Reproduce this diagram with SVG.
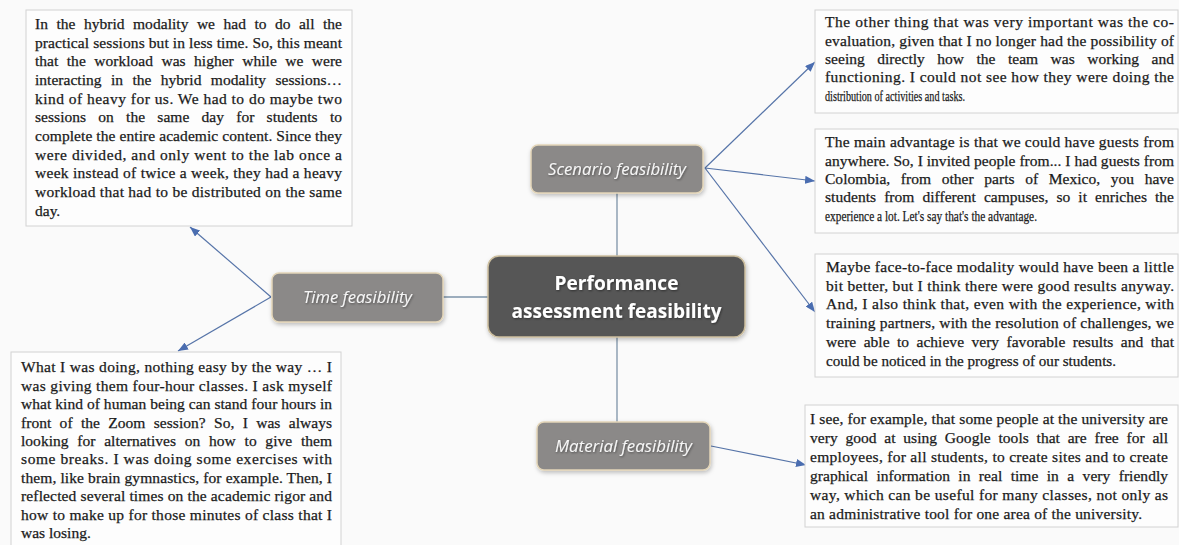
<svg xmlns="http://www.w3.org/2000/svg" width="1179" height="545" viewBox="0 0 1179 545">
<style>
.bg{fill:#fafafa}
.qbox{fill:#fdfdfd;stroke:#d2d2d2;stroke-width:1}
.q{font-family:"Liberation Serif","Times New Roman",serif;font-size:15.5px;fill:#1a1a1a;stroke:#1a1a1a;stroke-width:0.25}
.sub{fill:#8b8988;stroke:#e3d5b8;stroke-width:1.5}
.main{fill:#575757;stroke:#cdbf9f;stroke-width:1.5}
.lbl{font-family:"Open Sans","Noto Sans",sans-serif;font-style:italic;font-size:16px;fill:#f6f6f6;text-anchor:middle}
.mlbl{font-family:"Open Sans","Noto Sans",sans-serif;font-weight:bold;font-size:19px;fill:#ffffff;text-anchor:middle}
.plain{stroke:#7d93a8;stroke-width:1.3;fill:none}
.arr{stroke:#5674a8;stroke-width:1.2;fill:none;marker-end:url(#ah)}
</style>
<defs>
<marker id="ah" markerUnits="userSpaceOnUse" markerWidth="10" markerHeight="8" refX="10" refY="4" orient="auto">
<path d="M0,0 L10,4 L0,8 z" fill="#4a6db0"/>
</marker>
<filter id="sh" x="-10%" y="-20%" width="120%" height="150%">
<feDropShadow dx="1" dy="2" stdDeviation="2" flood-color="#000" flood-opacity="0.25"/>
</filter>
<filter id="tsh" x="-5%" y="-20%" width="110%" height="150%">
<feDropShadow dx="0.8" dy="1" stdDeviation="0.8" flood-color="#000" flood-opacity="0.45"/>
</filter>
</defs>
<rect class="bg" x="0" y="0" width="1179" height="545"/>

<g id="connectors">
<line class="plain" x1="443" y1="297" x2="488" y2="297"/>
<line class="plain" x1="617" y1="193" x2="617" y2="256"/>
<line class="plain" x1="617" y1="337" x2="617" y2="422"/>
<line class="arr" x1="271" y1="297" x2="190" y2="227"/>
<line class="arr" x1="271" y1="297" x2="178" y2="351"/>
<line class="arr" x1="705" y1="168" x2="815" y2="62"/>
<line class="arr" x1="705" y1="168" x2="815" y2="181"/>
<line class="arr" x1="705" y1="168" x2="815" y2="312"/>
<line class="arr" x1="711" y1="446" x2="806" y2="465"/>
</g>

<g id="quote-time-1">
<rect class="qbox" x="26" y="10" width="326" height="216"/>
<text class="q">
<tspan x="35" y="29" textLength="307" lengthAdjust="spacing" word-spacing="4.5">In the hybrid modality we had to do all the</tspan>
<tspan x="35" y="47.7" textLength="307" lengthAdjust="spacing">practical sessions but in less time. So, this meant</tspan>
<tspan x="35" y="66.3" textLength="307" lengthAdjust="spacing" word-spacing="4.5">that the workload was higher while we were</tspan>
<tspan x="35" y="85" textLength="307" lengthAdjust="spacing" word-spacing="5.5">interacting in the hybrid modality sessions…</tspan>
<tspan x="35" y="103.7" textLength="307" lengthAdjust="spacing">kind of heavy for us. We had to do maybe two</tspan>
<tspan x="35" y="122.3" textLength="307" lengthAdjust="spacing" word-spacing="8.3">sessions on the same day for students to</tspan>
<tspan x="35" y="141" textLength="307" lengthAdjust="spacing">complete the entire academic content. Since they</tspan>
<tspan x="35" y="159.7" textLength="307" lengthAdjust="spacing">were divided, and only went to the lab once a</tspan>
<tspan x="35" y="178.3" textLength="307" lengthAdjust="spacing">week instead of twice a week, they had a heavy</tspan>
<tspan x="35" y="197" textLength="307" lengthAdjust="spacing">workload that had to be distributed on the same</tspan>
<tspan x="35" y="215.7">day.</tspan>
</text>
</g>

<g id="quote-time-2">
<rect class="qbox" x="11" y="352" width="330" height="200"/>
<text class="q">
<tspan x="21" y="372.3" textLength="311" lengthAdjust="spacing">What I was doing, nothing easy by the way … I</tspan>
<tspan x="21" y="390.7" textLength="311" lengthAdjust="spacing">was giving them four-hour classes. I ask myself</tspan>
<tspan x="21" y="409.1" textLength="311" lengthAdjust="spacing">what kind of human being can stand four hours in</tspan>
<tspan x="21" y="427.5" textLength="311" lengthAdjust="spacing" word-spacing="4.4">front of the Zoom session? So, I was always</tspan>
<tspan x="21" y="445.9" textLength="311" lengthAdjust="spacing" word-spacing="4.8">looking for alternatives on how to give them</tspan>
<tspan x="21" y="464.3" textLength="311" lengthAdjust="spacing">some breaks. I was doing some exercises with</tspan>
<tspan x="21" y="482.7" textLength="311" lengthAdjust="spacing">them, like brain gymnastics, for example. Then, I</tspan>
<tspan x="21" y="501.1" textLength="311" lengthAdjust="spacing">reflected several times on the academic rigor and</tspan>
<tspan x="21" y="519.5" textLength="311" lengthAdjust="spacing">how to make up for those minutes of class that I</tspan>
<tspan x="21" y="537.9">was losing.</tspan>
</text>
</g>

<g id="quote-scenario-1">
<rect class="qbox" x="815" y="10" width="363" height="103"/>
<text class="q">
<tspan x="825" y="27.3" textLength="349" lengthAdjust="spacing">The other thing that was very important was the co-</tspan>
<tspan x="825" y="45.6" textLength="349" lengthAdjust="spacing">evaluation, given that I no longer had the possibility of</tspan>
<tspan x="825" y="63.9" textLength="349" lengthAdjust="spacing" word-spacing="8.5">seeing directly how the team was working and</tspan>
<tspan x="825" y="82.2" textLength="349" lengthAdjust="spacing">functioning. I could not see how they were doing the</tspan>
<tspan x="825" y="100.5" textLength="140" lengthAdjust="spacingAndGlyphs">distribution  of activities  and tasks.</tspan>
</text>
</g>

<g id="quote-scenario-2">
<rect class="qbox" x="815" y="129" width="363" height="104"/>
<text class="q">
<tspan x="825" y="147.3" textLength="349" lengthAdjust="spacing">The main advantage is that we could have guests from</tspan>
<tspan x="825" y="165.6" textLength="349" lengthAdjust="spacing">anywhere. So, I invited people from... I had guests from</tspan>
<tspan x="825" y="183.9" textLength="349" lengthAdjust="spacing" word-spacing="6.7">Colombia, from other parts of Mexico, you have</tspan>
<tspan x="825" y="202.2" textLength="349" lengthAdjust="spacing" word-spacing="4.1">students from different campuses, so it enriches the</tspan>
<tspan x="825" y="220.5" textLength="212" lengthAdjust="spacingAndGlyphs">experience  a lot. Let's say that's the advantage.</tspan>
</text>
</g>

<g id="quote-scenario-3">
<rect class="qbox" x="815" y="254" width="363" height="123"/>
<text class="q">
<tspan x="826" y="272" textLength="348" lengthAdjust="spacing">Maybe face-to-face modality would have been a little</tspan>
<tspan x="826" y="290.7" textLength="348" lengthAdjust="spacing">bit better, but I think there were good results anyway.</tspan>
<tspan x="826" y="309.4" textLength="348" lengthAdjust="spacing">And, I also think that, even with the experience, with</tspan>
<tspan x="826" y="328.1" textLength="348" lengthAdjust="spacing">training partners, with the resolution of challenges, we</tspan>
<tspan x="826" y="346.8" textLength="348" lengthAdjust="spacing" word-spacing="3.5">were able to achieve very favorable results and that</tspan>
<tspan x="826" y="365.5" textLength="290" lengthAdjust="spacingAndGlyphs">could be noticed in the progress of our students.</tspan>
</text>
</g>

<g id="quote-material">
<rect class="qbox" x="805" y="405" width="373" height="122"/>
<text class="q">
<tspan x="810" y="424" textLength="358" lengthAdjust="spacing">I see, for example, that some people at the university are</tspan>
<tspan x="810" y="443" textLength="358" lengthAdjust="spacing" word-spacing="3.8">very good at using Google tools that are free for all</tspan>
<tspan x="810" y="462" textLength="358" lengthAdjust="spacing">employees, for all students, to create sites and to create</tspan>
<tspan x="810" y="481" textLength="358" lengthAdjust="spacing" word-spacing="4.5">graphical information in real time in a very friendly</tspan>
<tspan x="810" y="500" textLength="358" lengthAdjust="spacing">way, which can be useful for many classes, not only as</tspan>
<tspan x="810" y="519" textLength="332" lengthAdjust="spacing">an administrative  tool for one area of the university.</tspan>
</text>
</g>

<g id="node-time">
<rect class="sub" x="272" y="273" width="171" height="49" rx="7" filter="url(#sh)"/>
<text class="lbl" x="357.5" y="303" textLength="109" lengthAdjust="spacingAndGlyphs" filter="url(#tsh)">Time feasibility</text>
</g>

<g id="node-scenario">
<rect class="sub" x="531" y="145" width="172" height="48" rx="7" filter="url(#sh)"/>
<text class="lbl" x="617" y="175" textLength="138" lengthAdjust="spacingAndGlyphs" filter="url(#tsh)">Scenario feasibility</text>
</g>

<g id="node-material">
<rect class="sub" x="537" y="422" width="173" height="48" rx="7" filter="url(#sh)"/>
<text class="lbl" x="623.5" y="452" textLength="137" lengthAdjust="spacingAndGlyphs" filter="url(#tsh)">Material feasibility</text>
</g>

<g id="node-main">
<rect class="main" x="488" y="256" width="257" height="81" rx="11" filter="url(#sh)"/>
<text class="mlbl" x="616.5" y="290" textLength="124" lengthAdjust="spacingAndGlyphs" filter="url(#tsh)">Performance</text>
<text class="mlbl" x="616.5" y="318" textLength="210" lengthAdjust="spacingAndGlyphs" filter="url(#tsh)">assessment feasibility</text>
</g>
</svg>
